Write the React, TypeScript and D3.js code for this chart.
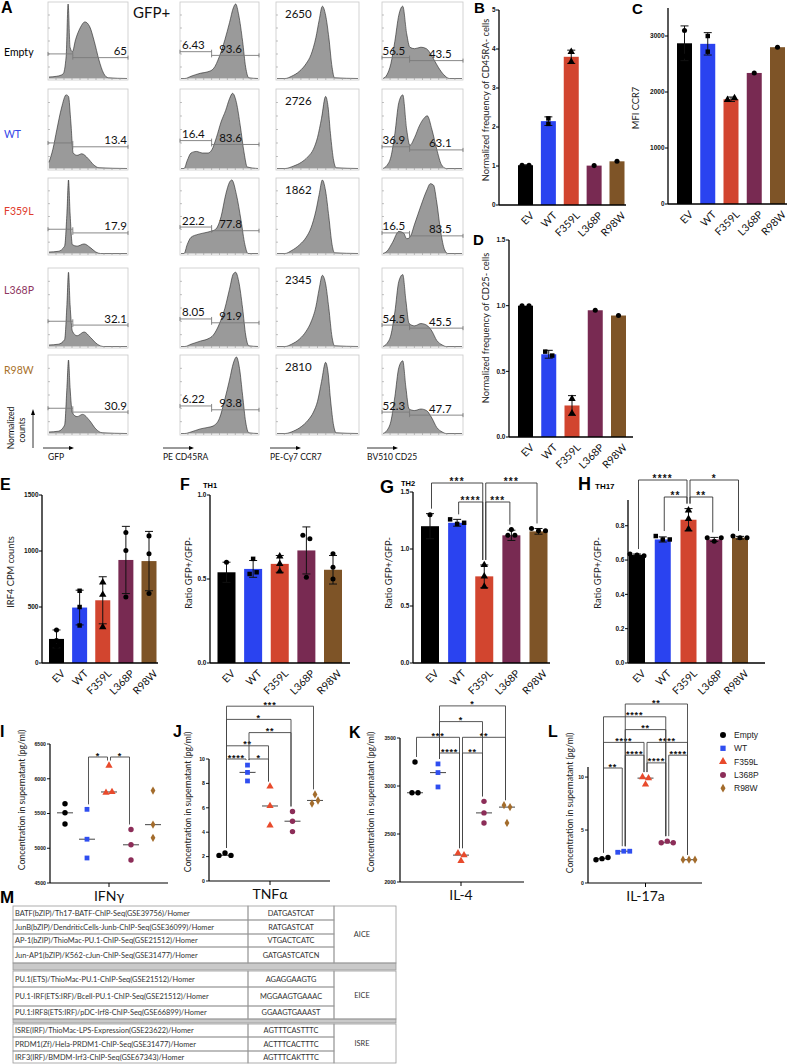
import React from "react";
import * as d3 from "d3";

// ---------- categories ----------
const groups = ["EV", "WT", "F359L", "L368P", "R98W"];
const legendNames = ["Empty", "WT", "F359L", "L368P", "R98W"];
const rowNames = ["Empty", "WT", "F359L", "L368P", "R98W"];

const BAR_COLORS = ["#000000", "#2a43f0", "#d2452f", "#782a52", "#7e5427"];
const SC_COLORS = ["#000000", "#2f4ef0", "#e84a2c", "#8c2d58", "#a36c2c"];
const ROW_COLORS = ["#000000", "#3346e8", "#e03b2d", "#8e3560", "#a8712a"];

// ---------- Panel A : histograms (x fraction, normalized count) ----------
const gfpHist = [
  [[0, 0.02], [0.1, 0.03], [0.18, 0.06], [0.22, 0.3], [0.245, 1.0], [0.27, 0.42], [0.3, 0.36], [0.34, 0.52], [0.4, 0.68], [0.46, 0.76], [0.52, 0.7], [0.58, 0.5], [0.64, 0.25], [0.7, 0.07], [0.76, 0.01], [1, 0]],
  [[0, 0.08], [0.05, 0.25], [0.1, 0.5], [0.16, 0.78], [0.22, 0.95], [0.25, 0.93], [0.28, 0.6], [0.31, 0.2], [0.36, 0.17], [0.42, 0.19], [0.5, 0.13], [0.57, 0.05], [0.64, 0.01], [1, 0]],
  [[0, 0.02], [0.12, 0.03], [0.2, 0.1], [0.23, 0.55], [0.25, 1.0], [0.27, 0.55], [0.3, 0.12], [0.36, 0.1], [0.45, 0.13], [0.53, 0.08], [0.6, 0.02], [0.66, 0], [1, 0]],
  [[0, 0.02], [0.12, 0.03], [0.2, 0.09], [0.23, 0.55], [0.25, 0.97], [0.27, 0.55], [0.3, 0.2], [0.36, 0.14], [0.45, 0.19], [0.53, 0.12], [0.62, 0.03], [0.7, 0], [1, 0]],
  [[0, 0.02], [0.12, 0.03], [0.2, 0.11], [0.23, 0.6], [0.25, 0.96], [0.27, 0.6], [0.3, 0.27], [0.36, 0.22], [0.43, 0.25], [0.52, 0.17], [0.6, 0.06], [0.68, 0.01], [1, 0]],
];
const cd45Hist = [
  [[0, 0], [0.05, 0], [0.13, 0.03], [0.25, 0.07], [0.35, 0.09], [0.42, 0.13], [0.5, 0.3], [0.57, 0.52], [0.63, 0.75], [0.68, 0.95], [0.71, 1.0], [0.75, 0.85], [0.8, 0.5], [0.84, 0.15], [0.88, 0.01], [1, 0]],
  [[0, 0], [0.04, 0], [0.08, 0.1], [0.13, 0.2], [0.2, 0.22], [0.28, 0.2], [0.35, 0.2], [0.4, 0.24], [0.46, 0.4], [0.52, 0.6], [0.58, 0.75], [0.63, 0.9], [0.67, 0.97], [0.72, 0.85], [0.77, 0.55], [0.82, 0.2], [0.86, 0.02], [1, 0]],
  [[0, 0], [0.04, 0], [0.08, 0.12], [0.13, 0.22], [0.22, 0.26], [0.3, 0.28], [0.38, 0.3], [0.45, 0.33], [0.52, 0.5], [0.58, 0.8], [0.63, 0.97], [0.66, 1.0], [0.72, 0.8], [0.78, 0.45], [0.83, 0.12], [0.87, 0], [1, 0]],
  [[0, 0], [0.05, 0], [0.13, 0.03], [0.25, 0.07], [0.35, 0.1], [0.42, 0.15], [0.5, 0.3], [0.57, 0.5], [0.63, 0.75], [0.68, 0.95], [0.71, 0.97], [0.75, 0.85], [0.8, 0.5], [0.84, 0.15], [0.88, 0.01], [1, 0]],
  [[0, 0], [0.05, 0], [0.13, 0.02], [0.25, 0.06], [0.35, 0.08], [0.42, 0.1], [0.5, 0.2], [0.57, 0.45], [0.63, 0.7], [0.68, 0.92], [0.72, 1.0], [0.76, 0.85], [0.8, 0.5], [0.84, 0.15], [0.88, 0.01], [1, 0]],
];
const ccr7Hist = [
  [[0, 0], [0.1, 0], [0.18, 0.03], [0.28, 0.1], [0.36, 0.2], [0.42, 0.32], [0.48, 0.55], [0.52, 0.78], [0.56, 0.97], [0.6, 0.85], [0.64, 0.55], [0.68, 0.15], [0.71, 0.01], [1, 0]],
  [[0, 0], [0.1, 0], [0.2, 0.03], [0.3, 0.08], [0.38, 0.15], [0.45, 0.25], [0.5, 0.4], [0.55, 0.65], [0.6, 0.93], [0.63, 0.8], [0.66, 0.45], [0.7, 0.1], [0.73, 0.01], [1, 0]],
  [[0, 0], [0.1, 0], [0.18, 0.04], [0.28, 0.12], [0.36, 0.22], [0.42, 0.35], [0.48, 0.58], [0.52, 0.8], [0.56, 1.0], [0.6, 0.85], [0.64, 0.5], [0.68, 0.12], [0.71, 0.01], [1, 0]],
  [[0, 0], [0.1, 0], [0.18, 0.03], [0.28, 0.1], [0.36, 0.2], [0.42, 0.32], [0.48, 0.52], [0.52, 0.75], [0.56, 0.93], [0.6, 0.82], [0.64, 0.5], [0.68, 0.12], [0.71, 0.01], [1, 0]],
  [[0, 0], [0.1, 0], [0.2, 0.03], [0.3, 0.09], [0.38, 0.17], [0.45, 0.28], [0.5, 0.42], [0.55, 0.68], [0.6, 0.93], [0.63, 0.8], [0.66, 0.45], [0.7, 0.1], [0.73, 0.01], [1, 0]],
];
const cd25Hist = [
  [[0, 0], [0.05, 0.05], [0.1, 0.2], [0.15, 0.5], [0.2, 0.85], [0.25, 0.97], [0.3, 0.6], [0.34, 0.42], [0.4, 0.4], [0.48, 0.42], [0.55, 0.4], [0.62, 0.3], [0.7, 0.15], [0.77, 0.05], [0.84, 0], [1, 0]],
  [[0, 0], [0.05, 0.04], [0.1, 0.15], [0.15, 0.45], [0.2, 0.85], [0.25, 0.95], [0.3, 0.5], [0.34, 0.3], [0.4, 0.4], [0.46, 0.55], [0.52, 0.65], [0.56, 0.68], [0.62, 0.5], [0.68, 0.25], [0.74, 0.05], [0.8, 0], [1, 0]],
  [[0, 0], [0.05, 0.03], [0.12, 0.15], [0.2, 0.3], [0.26, 0.28], [0.3, 0.2], [0.34, 0.22], [0.4, 0.4], [0.48, 0.65], [0.55, 0.85], [0.6, 0.95], [0.64, 0.93], [0.68, 0.7], [0.73, 0.3], [0.78, 0.05], [0.82, 0], [1, 0]],
  [[0, 0], [0.05, 0.04], [0.1, 0.15], [0.15, 0.45], [0.2, 0.85], [0.25, 0.94], [0.29, 0.6], [0.33, 0.3], [0.4, 0.27], [0.48, 0.3], [0.55, 0.28], [0.62, 0.2], [0.68, 0.08], [0.75, 0.02], [0.8, 0], [1, 0]],
  [[0, 0], [0.05, 0.04], [0.1, 0.16], [0.15, 0.48], [0.2, 0.86], [0.25, 0.95], [0.29, 0.6], [0.33, 0.32], [0.4, 0.3], [0.48, 0.32], [0.55, 0.3], [0.62, 0.2], [0.68, 0.08], [0.75, 0.02], [0.8, 0], [1, 0]],
];
const gfpRight = ["65", "13.4", "17.9", "32.1", "30.9"];
const cd45Left = ["6.43", "16.4", "22.2", "8.05", "6.22"];
const cd45Right = ["93.6", "83.6", "77.8", "91.9", "93.8"];
const ccr7Mfi = ["2650", "2726", "1862", "2345", "2810"];
const cd25Left = ["56.5", "36.9", "16.5", "54.5", "52.3"];
const cd25Right = ["43.5", "63.1", "83.5", "45.5", "47.7"];
// gate [split, leftHeight, rightHeight] in histogram units
const gfpGate = [0.31, 0.33, 0.28];
const cd45Gate = [0.4, 0.36, 0.31];
const cd25Gate = [0.34, 0.28, 0.24];
const axisNames = ["GFP", "PE CD45RA", "PE-Cy7 CCR7", "BV510 CD25"];

// ---------- Panel B ----------
const bMeans = [1.02, 2.15, 3.8, 1.01, 1.12];
const bSD = [0.01, 0.11, 0.17, 0, 0];
const bPts = [[1.02, 1.02], [2.22, 2.08], [3.93, 3.67], [1.01], [1.12]];
// ---------- Panel C ----------
const cMeans = [2870, 2860, 1870, 2340, 2800];
const cSD = [310, 200, 40, 0, 0];
const cPts = [[3100, 2640], [3000, 2720], [1860, 1890], [2340], [2800]];
// ---------- Panel D ----------
const dMeans = [1.0, 0.63, 0.24, 0.965, 0.925];
const dSD = [0, 0.03, 0.075, 0, 0];
const dPts = [[1.0, 1.0], [0.65, 0.62], [0.29, 0.18], [0.965], [0.925]];
// ---------- Panel E ----------
const eMeans = [215, 495, 560, 920, 910];
const eSD = [80, 155, 210, 300, 265];
const ePts = [[295, 200, 150], [645, 500, 335], [720, 610, 320], [1165, 1005, 590], [1135, 975, 620]];
// ---------- Panel F (TH1) ----------
const fMeans = [0.54, 0.56, 0.59, 0.67, 0.555];
const fSD = [0.06, 0.05, 0.05, 0.14, 0.085];
const fPts = [[0.6, 0.52, 0.5], [0.62, 0.53, 0.54], [0.635, 0.59, 0.545], [0.76, 0.74, 0.51], [0.65, 0.57, 0.5]];
// ---------- Panel G (TH2) ----------
const gMeans = [1.2, 1.23, 0.76, 1.12, 1.155];
const gSD = [0.11, 0.03, 0.1, 0.045, 0.025];
const gPts = [[1.3, 1.15, 1.15], [1.26, 1.22, 1.23], [0.86, 0.76, 0.67], [1.17, 1.12, 1.12], [1.18, 1.16, 1.16]];
const gSig = [[0, 2, "***", 1], [2, 4, "***", 1], [1, 2, "****", 0], [2, 3, "***", 0]];
// ---------- Panel H (TH17) ----------
const hMeans = [0.63, 0.72, 0.835, 0.72, 0.73];
const hSD = [0.005, 0.015, 0.065, 0.012, 0.008];
const hPts = [[0.635, 0.63, 0.625], [0.74, 0.72, 0.72], [0.89, 0.84, 0.78], [0.73, 0.71, 0.73], [0.74, 0.73, 0.73]];
const hSig = [[0, 2, "****", 1], [2, 4, "*", 1], [1, 2, "**", 0], [2, 3, "**", 0]];
// ---------- Panels I-L (cytokines) ----------
const ifngVals = [[5640, 5510, 5350], [5560, 5130, 4860], [6190, 5800, 5810], [5270, 5050, 4830], [5830, 5340, 5150]];
const ifngSig = [[1, 2, "*", 0], [2, 3, "*", 0]];
const tnfVals = [[2.1, 2.3, 2.1], [9.5, 8.9, 8.2], [7.75, 6.15, 4.55], [5.7, 4.9, 4.05], [7.1, 6.35, 6.6]];
const tnfSig = [[0, 1, "****", 0], [1, 2, "*", 0], [0, 2, "**", 1], [1, 3, "**", 2], [0, 3, "*", 3], [0, 4, "***", 4]];
const il4Vals = [[3250, 2930, 2930], [3230, 3140, 2990], [2300, 2280, 2220], [2840, 2720, 2615], [2800, 2780, 2615]];
const il4Sig = [[1, 2, "****", 0], [2, 3, "**", 0], [0, 2, "***", 1], [2, 4, "**", 1], [1, 3, "*", 2], [1, 4, "*", 3]];
const il17Vals = [[2.2, 2.3, 2.4], [2.9, 3.0, 3.0], [10.0, 9.9, 9.3], [3.8, 3.95, 3.8], [2.2, 2.2, 2.2]];
const il17Sig = [[0, 1, "**", 0], [2, 3, "****", 0.4], [1, 2, "****", 1], [3, 4, "****", 1], [0, 2, "****", 2], [2, 4, "****", 2], [1, 3, "**", 3], [0, 3, "****", 4], [1, 4, "**", 5]];

// ---------- Panel M table ----------
const motifNames = [
  "BATF(bZIP)/Th17-BATF-ChIP-Seq(GSE39756)/Homer",
  "JunB(bZIP)/DendriticCells-Junb-ChIP-Seq(GSE36099)/Homer",
  "AP-1(bZIP)/ThioMac-PU.1-ChIP-Seq(GSE21512)/Homer",
  "Jun-AP1(bZIP)/K562-cJun-ChIP-Seq(GSE31477)/Homer",
  "PU.1(ETS)/ThioMac-PU.1-ChIP-Seq(GSE21512)/Homer",
  "PU.1-IRF(ETS:IRF)/Bcell-PU.1-ChIP-Seq(GSE21512)/Homer",
  "PU.1:IRF8(ETS:IRF)/pDC-Irf8-ChIP-Seq(GSE66899)/Homer",
  "ISRE(IRF)/ThioMac-LPS-Expression(GSE23622)/Homer",
  "PRDM1(Zf)/Hela-PRDM1-ChIP-Seq(GSE31477)/Homer",
  "IRF3(IRF)/BMDM-Irf3-ChIP-Seq(GSE67343)/Homer",
];
const motifSeqs = ["DATGASTCAT", "RATGASTCAT", "VTGACTCATC", "GATGASTCATCN", "AGAGGAAGTG", "MGGAAGTGAAAC", "GGAAGTGAAAST", "AGTTTCASTTTC", "ACTTTCACTTTC", "AGTTTCAKTTTC"];
const motifClasses = ["AICE", "EICE", "ISRE"];
const motifClassRows = [[0, 3], [4, 6], [7, 9]];

// ---------- layout ----------
const FONT = "Lato, 'Open Sans', sans-serif";
const ARIAL = "'Liberation Sans', Arial, sans-serif";
const HIST_COLS = [48, 180, 276, 382];
const HIST_W = [80, 79, 83, 81];
const HIST_ROWS = [[2, 80], [89, 170], [178, 255], [268, 348], [355, 435]];
const ROW_LABEL_Y = [56, 138, 215, 294, 374];

const SHAPES_BAR = [d3.symbolCircle, d3.symbolSquare, d3.symbolTriangle, d3.symbolCircle, d3.symbolCircle];
const SHAPES_SC = [d3.symbolCircle, d3.symbolSquare, d3.symbolTriangle, d3.symbolCircle, d3.symbolDiamond];

function swarm(vals: number[], py: (v: number) => number, gap: number, thr: number) {
  const items = vals.map((v, i) => ({ i, p: py(v) })).sort((a, b) => a.p - b.p);
  const offs = vals.map(() => 0);
  let cl: { i: number; p: number }[] = [];
  const flush = () => {
    const s = [...cl].sort((a, b) => a.i - b.i);
    const n = s.length;
    s.forEach((c, k) => (offs[c.i] = (k - (n - 1) / 2) * gap));
  };
  items.forEach((it) => {
    if (cl.length && it.p - cl[cl.length - 1].p >= thr) {
      flush();
      cl = [];
    }
    cl.push(it);
  });
  if (cl.length) flush();
  return offs;
}

function Hist({ x0, w, y0, y1, data }: any) {
  const xs = d3.scaleLinear().domain([0, 1]).range([x0 + 1, x0 + w - 1]);
  const ys = d3.scaleLinear().domain([0, 1]).range([y1 - 1.5, y0 + 2]);
  const area = d3
    .area<number[]>()
    .x((d) => xs(d[0]))
    .y0(ys(0))
    .y1((d) => ys(d[1]))
    .curve(d3.curveMonotoneX);
  const line = d3
    .line<number[]>()
    .x((d) => xs(d[0]))
    .y((d) => ys(d[1]))
    .curve(d3.curveMonotoneX);
  const h = y1 - y0;
  return (
    <g>
      <rect x={x0} y={y0} width={w} height={h} fill="#fff" stroke="#c9c9c9" strokeWidth={0.8} />
      <path d={area(data) || ""} fill="#9a9a9a" />
      <path d={line(data) || ""} fill="none" stroke="#222" strokeWidth={0.6} />
      {d3.range(1, 6).map((k) => (
        <line key={"l" + k} x1={x0} x2={x0 + 2} y1={y1 - (k * h) / 6} y2={y1 - (k * h) / 6} stroke="#999" strokeWidth={0.6} />
      ))}
      {d3.range(1, 10).map((k) => (
        <line key={"b" + k} x1={x0 + (k * w) / 10} x2={x0 + (k * w) / 10} y1={y1} y2={y1 - 2} stroke="#999" strokeWidth={0.6} />
      ))}
    </g>
  );
}

function Gate({ xa, xb, y }: any) {
  return (
    <g stroke="#7a7a7a" strokeWidth={0.9}>
      <line x1={xa} x2={xb} y1={y} y2={y} />
      <line x1={xa} x2={xa} y1={y - 2} y2={y + 2} />
      <line x1={xb} x2={xb} y1={y - 2} y2={y + 2} />
    </g>
  );
}

function PanelA() {
  const cols = [gfpHist, cd45Hist, ccr7Hist, cd25Hist];
  const out: any[] = [];
  HIST_ROWS.forEach(([y0, y1], r) => {
    const hy = (f: number) => y1 - 1.5 - f * (y1 - y0 - 3.5);
    cols.forEach((c, ci) => {
      const x0 = HIST_COLS[ci];
      const w = HIST_W[ci];
      out.push(<Hist key={`h${r}${ci}`} x0={x0} w={w} y0={y0} y1={y1} data={c[r]} />);
      const gx = (f: number) => x0 + f * w;
      if (ci === 0) {
        out.push(<Gate key={`g${r}a`} xa={gx(0)} xb={gx(gfpGate[0])} y={hy(gfpGate[1])} />);
        out.push(<Gate key={`g${r}b`} xa={gx(gfpGate[0])} xb={gx(1)} y={hy(gfpGate[2])} />);
        out.push(
          <text key={`t${r}a`} x={gx(1) - 1} y={hy(gfpGate[2]) - 2.5} textAnchor="end" fontSize={11.5} fill="#111">
            {gfpRight[r]}
          </text>
        );
      } else if (ci === 1) {
        out.push(<Gate key={`g${r}c`} xa={gx(0)} xb={gx(cd45Gate[0])} y={hy(cd45Gate[1])} />);
        out.push(<Gate key={`g${r}d`} xa={gx(cd45Gate[0])} xb={gx(1)} y={hy(cd45Gate[2])} />);
        out.push(
          <text key={`t${r}c`} x={gx(0) + 2} y={hy(cd45Gate[1]) - 2.5} fontSize={11.5} fill="#111">
            {cd45Left[r]}
          </text>
        );
        out.push(
          <text key={`t${r}d`} x={gx(0.64)} y={hy(cd45Gate[2]) - 2.5} textAnchor="middle" fontSize={11.5} fill="#111">
            {cd45Right[r]}
          </text>
        );
      } else if (ci === 2) {
        out.push(
          <text key={`t${r}e`} x={x0 + 9} y={y0 + 16} fontSize={11.5} fill="#111">
            {ccr7Mfi[r]}
          </text>
        );
      } else {
        out.push(<Gate key={`g${r}f`} xa={gx(0)} xb={gx(cd25Gate[0])} y={hy(cd25Gate[1])} />);
        out.push(<Gate key={`g${r}g`} xa={gx(cd25Gate[0])} xb={gx(1)} y={hy(cd25Gate[2])} />);
        out.push(
          <text key={`t${r}f`} x={gx(0) + 0.5} y={hy(cd25Gate[1]) - 2.5} fontSize={11.5} fill="#111">
            {cd25Left[r]}
          </text>
        );
        out.push(
          <text key={`t${r}g`} x={gx(0.72)} y={hy(cd25Gate[2]) - 2.5} textAnchor="middle" fontSize={11.5} fill="#111">
            {cd25Right[r]}
          </text>
        );
      }
    });
    out.push(
      <text key={`rn${r}`} x={4} y={ROW_LABEL_Y[r]} fontSize={10.5} fill={ROW_COLORS[r]}>
        {rowNames[r]}
      </text>
    );
  });
  const axX = [43, 163, 270, 367];
  axisNames.forEach((n, i) => {
    const x = axX[i];
    out.push(
      <g key={"ax" + i}>
        <line x1={x} x2={x + 28} y1={448} y2={448} stroke="#000" strokeWidth={0.8} />
        <path d={`M${x + 31},448 L${x + 26},446 L${x + 26},450 Z`} fill="#000" />
        <text x={x + (i === 0 ? 5 : 0)} y={460} fontSize={8.5} fill="#111">
          {n}
        </text>
      </g>
    );
  });
  out.push(
    <g key="nc">
      <text transform="translate(14,428) rotate(-90)" textAnchor="middle" fontSize={8.5} fill="#111">
        Normalized
      </text>
      <text transform="translate(25,430) rotate(-90)" textAnchor="middle" fontSize={8.5} fill="#111">
        counts
      </text>
      <line x1={33} x2={33} y1={448} y2={413} stroke="#000" strokeWidth={0.8} />
      <path d="M33,409 L31,415 L35,415 Z" fill="#000" />
    </g>
  );
  out.push(
    <text key="gfpplus" x={133} y={18} fontSize={15} fill="#111">
      GFP+
    </text>
  );
  return <g>{out}</g>;
}

function BarPanel({ lay, domain, ticks, fmt, means, sds, pts, ylabel, sig }: any) {
  const y = d3.scaleLinear().domain(domain).range([lay.yBot, lay.yTop]);
  const x = d3.scalePoint<string>().domain(groups).range([lay.c0, lay.c4]);
  const f = d3.format(fmt);
  const bw = lay.bw;
  const groupTop = (i: number) => y(Math.max(...pts[i], means[i] + sds[i]));
  return (
    <g>
      {groups.map((g, i) => (
        <rect key={"r" + g} x={(x(g) as number) - bw / 2} y={y(means[i])} width={bw} height={y(0) - y(means[i])} fill={BAR_COLORS[i]} />
      ))}
      {groups.map((g, i) => {
        if (!sds[i]) return null;
        const cx = x(g) as number;
        const lo = y(means[i] - sds[i]);
        const hi = y(means[i] + sds[i]);
        return (
          <g key={"e" + g} stroke="#111" strokeWidth={1}>
            <line x1={cx} x2={cx} y1={lo} y2={hi} />
            <line x1={cx - 4} x2={cx + 4} y1={hi} y2={hi} />
            <line x1={cx - 4} x2={cx + 4} y1={lo} y2={lo} />
          </g>
        );
      })}
      {groups.map((g, i) => {
        const offs = swarm(pts[i], y, 7, 4.5);
        const sym = d3.symbol().type(SHAPES_BAR[i]).size(i === 2 ? 24 : 20)();
        return pts[i].map((v: number, k: number) => (
          <path key={"p" + g + k} d={sym || ""} transform={`translate(${(x(g) as number) + offs[k]},${y(v)})`} fill="#000" />
        ));
      })}
      <line x1={lay.ax} x2={lay.ax} y1={lay.yBot} y2={lay.yTop} stroke="#000" strokeWidth={1.3} />
      <line x1={lay.ax} x2={lay.aEnd} y1={lay.yBot} y2={lay.yBot} stroke="#000" strokeWidth={1.3} />
      {ticks.map((t: number) => (
        <g key={"t" + t}>
          <line x1={lay.ax - 3} x2={lay.ax} y1={y(t)} y2={y(t)} stroke="#000" strokeWidth={1} />
          <text x={lay.ax - 3.5} y={y(t)} dy="0.35em" textAnchor="end" fontSize={6.5} fontWeight="bold" fontFamily={ARIAL} fill="#111">
            {f(t)}
          </text>
        </g>
      ))}
      {groups.map((g) => (
        <text key={"xl" + g} transform={`translate(${(x(g) as number) + 4},${lay.yBot + 6}) rotate(-45)`} textAnchor="end" dy="0.7em" fontSize={10.5} fill="#111">
          {g}
        </text>
      ))}
      <text transform={`translate(${lay.ylx},${lay.yly}) rotate(-90)`} textAnchor="middle" dy="0.35em" fontSize={9.3} fill="#222">
        {ylabel}
      </text>
      {(sig || []).map((s: any, k: number) => {
        const [a, b, lab, tier] = s;
        const yy = lay.bBase - tier * lay.bStep;
        const xa = (x(groups[a]) as number) + 1.5;
        const xb = (x(groups[b]) as number) - 1.5;
        return (
          <g key={"s" + k}>
            <path d={`M${xa},${groupTop(a) - 5} V${yy} H${xb} V${groupTop(b) - 5}`} fill="none" stroke="#333" strokeWidth={0.9} />
            <text x={(xa + xb) / 2} y={yy + 2} textAnchor="middle" fontSize={10} fontWeight="bold" fontFamily={ARIAL} letterSpacing={1.2} fill="#111">
              {lab}
            </text>
          </g>
        );
      })}
    </g>
  );
}

function ScatterPanel({ lay, domain, ticks, vals, sig, label }: any) {
  const y = d3.scaleLinear().domain(domain).range([lay.yBot, lay.yTop]);
  const x = d3.scalePoint<string>().domain(groups).range([lay.c0, lay.c4]);
  const groupTop = (i: number) => y(Math.max(...vals[i]));
  const mid = (lay.c0 + lay.c4) / 2;
  return (
    <g>
      {groups.map((g, i) => {
        const med = d3.median(vals[i]) as number;
        const cx = x(g) as number;
        return <line key={"m" + g} x1={cx - 8} x2={cx + 8} y1={y(med)} y2={y(med)} stroke="#555" strokeWidth={1.1} />;
      })}
      {groups.map((g, i) => {
        const offs = swarm(vals[i], y, 6, 4.5);
        const sym = d3.symbol().type(SHAPES_SC[i]).size(i === 4 ? 20 : 23)();
        return vals[i].map((v: number, k: number) => (
          <path key={"p" + g + k} d={sym || ""} transform={`translate(${(x(g) as number) + offs[k]},${y(v)})`} fill={SC_COLORS[i]} />
        ));
      })}
      <line x1={lay.ax} x2={lay.ax} y1={lay.yBot} y2={lay.yTop} stroke="#000" strokeWidth={1.2} />
      <line x1={lay.ax} x2={lay.aEnd} y1={lay.yBot} y2={lay.yBot} stroke="#000" strokeWidth={1.2} />
      <line x1={mid} x2={mid} y1={lay.yBot} y2={lay.yBot + 4} stroke="#000" strokeWidth={1} />
      {ticks.map((t: number) => (
        <g key={"t" + t}>
          <line x1={lay.ax - 3} x2={lay.ax} y1={y(t)} y2={y(t)} stroke="#000" strokeWidth={0.9} />
          <text x={lay.ax - 4} y={y(t)} dy="0.35em" textAnchor="end" fontSize={5.2} fontWeight="bold" fontFamily={ARIAL} fill="#111">
            {t}
          </text>
        </g>
      ))}
      <text x={mid} y={lay.yBot + 18} textAnchor="middle" fontSize={14} fill="#111">
        {label}
      </text>
      <text transform={`translate(${lay.ylx},${lay.yly}) rotate(-90)`} textAnchor="middle" dy="0.35em" fontSize={8.7} fill="#222">
        Concentration in supernatant (pg/ml)
      </text>
      {sig.map((s: any, k: number) => {
        const [a, b, lab, tier] = s;
        const yy = lay.bBase - tier * lay.bStep;
        const xa = (x(groups[a]) as number) + 1.5;
        const xb = (x(groups[b]) as number) - 1.5;
        return (
          <g key={"s" + k}>
            <path d={`M${xa},${groupTop(a) - 5} V${yy} H${xb} V${groupTop(b) - 5}`} fill="none" stroke="#444" strokeWidth={0.9} />
            <text x={(xa + xb) / 2} y={yy + 1.5} textAnchor="middle" fontSize={9} fontWeight="bold" fontFamily={ARIAL} letterSpacing={0.8} fill="#111">
              {lab}
            </text>
          </g>
        );
      })}
    </g>
  );
}

function Legend() {
  return (
    <g>
      {legendNames.map((n, i) => {
        const yy = 735 + i * 13.3;
        const sym = d3.symbol().type(SHAPES_SC[i]).size(i === 4 ? 22 : 28)();
        return (
          <g key={n}>
            <path d={sym || ""} transform={`translate(723,${yy})`} fill={SC_COLORS[i]} />
            <text x={734} y={yy} dy="0.35em" fontSize={8.5} fontFamily={ARIAL} fill="#222">
              {n}
            </text>
          </g>
        );
      })}
    </g>
  );
}

const TX = [13, 248, 334, 396];
const ROW_Y0 = [906, 920, 934, 947, 971, 987, 1006, 1024, 1037, 1051];
const ROW_Y1 = [920, 934, 947, 963, 987, 1006, 1019, 1037, 1051, 1063];
const BANDS = [[963, 970], [1019, 1023]];

function Table() {
  const stroke = "#9a9a9a";
  return (
    <g>
      {BANDS.map(([a, b], k) => (
        <rect key={"band" + k} x={TX[0]} y={a} width={TX[3] - TX[0]} height={b - a} fill="#c9c9c9" stroke={stroke} strokeWidth={0.8} />
      ))}
      {motifNames.map((n, i) => (
        <g key={"row" + i}>
          <rect x={TX[0]} y={ROW_Y0[i]} width={TX[1] - TX[0]} height={ROW_Y1[i] - ROW_Y0[i]} fill="none" stroke={stroke} strokeWidth={0.8} />
          <rect x={TX[1]} y={ROW_Y0[i]} width={TX[2] - TX[1]} height={ROW_Y1[i] - ROW_Y0[i]} fill="none" stroke={stroke} strokeWidth={0.8} />
          <text x={TX[0] + 2} y={(ROW_Y0[i] + ROW_Y1[i]) / 2} dy="0.35em" fontSize={7.4} fill="#333">
            {n}
          </text>
          <text x={(TX[1] + TX[2]) / 2} y={(ROW_Y0[i] + ROW_Y1[i]) / 2} dy="0.35em" textAnchor="middle" fontSize={7.4} fill="#333">
            {motifSeqs[i]}
          </text>
        </g>
      ))}
      {motifClasses.map((c, k) => {
        const [r0, r1] = motifClassRows[k];
        const y0 = ROW_Y0[r0];
        const y1 = ROW_Y1[r1];
        return (
          <g key={"cls" + c}>
            <rect x={TX[2]} y={y0} width={TX[3] - TX[2]} height={y1 - y0} fill="none" stroke={stroke} strokeWidth={0.8} />
            <text x={(TX[2] + TX[3]) / 2 - 3} y={(y0 + y1) / 2} dy="0.35em" textAnchor="middle" fontSize={7.4} fill="#333">
              {c}
            </text>
          </g>
        );
      })}
    </g>
  );
}

const LB = { ax: 499, aEnd: 626, yTop: 10, yBot: 205, c0: 525.5, c4: 617, bw: 15, ylx: 486, yly: 100 };
const LC = { ax: 668, aEnd: 787, yTop: 8, yBot: 204, c0: 684.5, c4: 777.5, bw: 15, ylx: 636, yly: 108 };
const LD = { ax: 509, aEnd: 633, yTop: 240, yBot: 437, c0: 525.5, c4: 618.5, bw: 15, ylx: 486, yly: 328 };
const LE = { ax: 42, aEnd: 158, yTop: 495, yBot: 663, c0: 56.5, c4: 149, bw: 15, ylx: 11, yly: 572 };
const LF = { ax: 210, aEnd: 350, yTop: 495, yBot: 663, c0: 226.5, c4: 333, bw: 18, ylx: 189, yly: 573 };
const LG = { ax: 413, aEnd: 550, yTop: 492, yBot: 663, c0: 430, c4: 538.5, bw: 18, ylx: 389, yly: 573, bBase: 502, bStep: 19 };
const LH = { ax: 628, aEnd: 765, yTop: 500, yBot: 663, c0: 637, c4: 740, bw: 16, ylx: 598, yly: 573, bBase: 497, bStep: 17 };
const LI = { ax: 50, aEnd: 168, yTop: 744, yBot: 883, c0: 65, c4: 153, ylx: 22, yly: 800, bBase: 757, bStep: 13 };
const LJ = { ax: 209, aEnd: 330, yTop: 759, yBot: 881, c0: 225, c4: 315, ylx: 188, yly: 802, bBase: 759, bStep: 13.2 };
const LK = { ax: 400, aEnd: 524, yTop: 738, yBot: 882, c0: 415, c4: 507, ylx: 371, yly: 802, bBase: 753, bStep: 15.7 };
const LL = { ax: 588, aEnd: 702, yTop: 767, yBot: 883, c0: 602, c4: 689, ylx: 570, yly: 803, bBase: 768, bStep: 12.8 };

const letters: [string, number, number, number][] = [
  ["A", 1, 13, 16], ["B", 474, 13, 15], ["C", 632, 14, 15], ["D", 473, 245, 15],
  ["E", 0, 490, 16], ["F", 180, 490, 16], ["G", 380, 493, 18], ["H", 578, 490, 18],
  ["I", 0, 737, 16], ["J", 173, 737, 16], ["K", 349, 738, 16], ["L", 548, 737, 16], ["M", 0, 903, 17],
];

export default function App() {
  return (
    <svg width={797} height={1064} style={{ position: "absolute", left: 0, top: 0, background: "#fff" }} fontFamily={FONT}>
      <rect width={797} height={1064} fill="#fff" />
      <PanelA />
      <BarPanel lay={LB} domain={[0, 5]} ticks={[0, 1, 2, 3, 4, 5]} fmt="d" means={bMeans} sds={bSD} pts={bPts} ylabel="Normalized frequency of CD45RA- cells" />
      <BarPanel lay={LC} domain={[0, 3500]} ticks={[0, 1000, 2000, 3000]} fmt="d" means={cMeans} sds={cSD} pts={cPts} ylabel="MFI CCR7" />
      <BarPanel lay={LD} domain={[0, 1.5]} ticks={[0, 0.5, 1, 1.5]} fmt=".1f" means={dMeans} sds={dSD} pts={dPts} ylabel="Normalized frequency of CD25- cells" />
      <BarPanel lay={LE} domain={[0, 1500]} ticks={[0, 500, 1000, 1500]} fmt="d" means={eMeans} sds={eSD} pts={ePts} ylabel="IRF4 CPM counts" />
      <BarPanel lay={LF} domain={[0, 1]} ticks={[0, 0.5, 1]} fmt=".1f" means={fMeans} sds={fSD} pts={fPts} ylabel="Ratio GFP+/GFP-" />
      <BarPanel lay={LG} domain={[0, 1.5]} ticks={[0, 0.5, 1, 1.5]} fmt=".1f" means={gMeans} sds={gSD} pts={gPts} ylabel="Ratio GFP+/GFP-" sig={gSig} />
      <BarPanel lay={LH} domain={[0, 0.95]} ticks={[0, 0.2, 0.4, 0.6, 0.8]} fmt=".1f" means={hMeans} sds={hSD} pts={hPts} ylabel="Ratio GFP+/GFP-" sig={hSig} />
      <text x={203} y={488} fontSize={7.5} fontWeight="bold" fontFamily={ARIAL}>TH1</text>
      <text x={401} y={486} fontSize={7.5} fontWeight="bold" fontFamily={ARIAL}>TH2</text>
      <text x={595} y={489} fontSize={8} fontWeight="bold" fontFamily={ARIAL}>TH17</text>
      <ScatterPanel lay={LI} domain={[4500, 6500]} ticks={[4500, 5000, 5500, 6000, 6500]} vals={ifngVals} sig={ifngSig} label="IFNγ" />
      <ScatterPanel lay={LJ} domain={[0, 10]} ticks={[0, 2, 4, 6, 8, 10]} vals={tnfVals} sig={tnfSig} label="TNFα" />
      <ScatterPanel lay={LK} domain={[2000, 3500]} ticks={[2000, 2500, 3000, 3500]} vals={il4Vals} sig={il4Sig} label="IL-4" />
      <ScatterPanel lay={LL} domain={[0, 10.95]} ticks={[0, 5, 10]} vals={il17Vals} sig={il17Sig} label="IL-17a" />
      <Legend />
      <Table />
      {letters.map(([t, x, y, s]) => (
        <text key={t} x={x} y={y} fontSize={s} fontWeight="bold" fontFamily={ARIAL} fill="#000">
          {t}
        </text>
      ))}
    </svg>
  );
}
